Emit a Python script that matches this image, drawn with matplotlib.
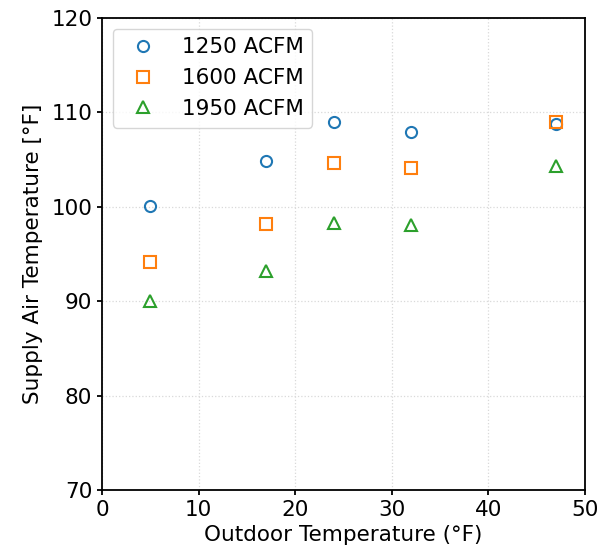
import matplotlib.pyplot as plt

outdoor_temp = [5, 17, 24, 32, 47]
supply_1250 = [100.1, 104.8, 109.0, 107.9, 108.8]
supply_1600 = [94.2, 98.2, 104.6, 104.1, 109.0]
supply_1950 = [90.0, 93.2, 98.3, 98.1, 104.3]

plt.rcParams["font.size"] = 15.5
plt.rcParams["axes.linewidth"] = 1.3
plt.rcParams["xtick.major.width"] = 1.3
plt.rcParams["ytick.major.width"] = 1.3

fig = plt.figure(figsize=(6.01, 5.56), dpi=100)
ax = fig.add_axes([102 / 601, 66 / 556, 483 / 601, 472 / 556])

ax.plot(outdoor_temp, supply_1250, "o", mfc="none", mec="#1f77b4",
        ms=8, mew=1.5, label="1250 ACFM")
ax.plot(outdoor_temp, supply_1600, "s", mfc="none", mec="#ff7f0e",
        ms=8, mew=1.5, label="1600 ACFM")
ax.plot(outdoor_temp, supply_1950, "^", mfc="none", mec="#2ca02c",
        ms=8, mew=1.5, label="1950 ACFM")

ax.set_xlim(0, 50)
ax.set_ylim(70, 120)
ax.set_xticks([0, 10, 20, 30, 40, 50])
ax.set_yticks([70, 80, 90, 100, 110, 120])
ax.grid(True, linestyle=":", color="#d9d9d9", linewidth=0.9)

ax.set_xlabel("Outdoor Temperature (°F)")
ax.set_ylabel("Supply Air Temperature [°F]", labelpad=6)
ax.legend(loc="upper left", handletextpad=0.8)

fig.savefig("out.png", dpi=100)
